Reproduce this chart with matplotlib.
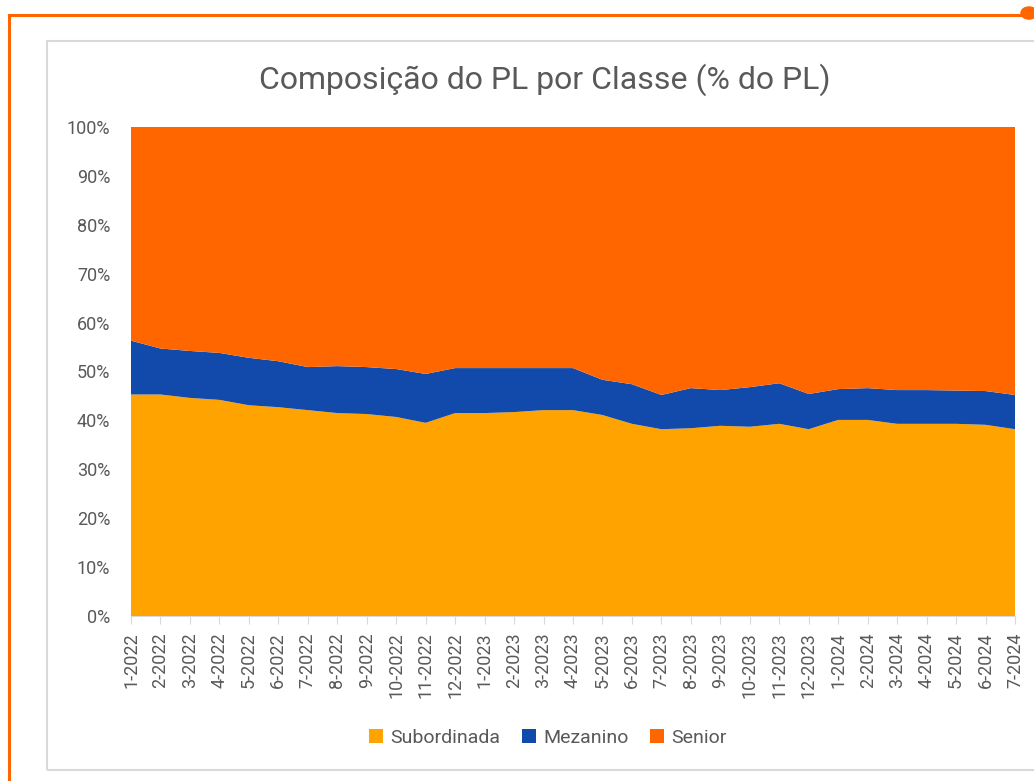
from matplotlib import pyplot as plt
from matplotlib.patches import Rectangle, Circle
from matplotlib.lines import Line2D
import numpy as np

plt.rcParams['font.family'] = ['Roboto', 'DejaVu Sans']

# meses
meses = ['1-2022', '2-2022', '3-2022', '4-2022', '5-2022', '6-2022', '7-2022', '8-2022',
         '9-2022', '10-2022', '11-2022', '12-2022', '1-2023', '2-2023', '3-2023', '4-2023',
         '5-2023', '6-2023', '7-2023', '8-2023', '9-2023', '10-2023', '11-2023', '12-2023',
         '1-2024', '2-2024', '3-2024', '4-2024', '5-2024', '6-2024', '7-2024']

# % do PL
subordinada = [45.3, 45.3, 44.6, 44.2, 43.1, 42.7, 42.1, 41.5, 41.3, 40.7, 39.5, 41.5,
               41.5, 41.7, 42.1, 42.1, 41.1, 39.3, 38.2, 38.4, 38.9, 38.7, 39.3, 38.2,
               40.1, 40.1, 39.3, 39.3, 39.3, 39.1, 38.2]
mezanino = [11.0, 9.4, 9.6, 9.6, 9.7, 9.4, 8.8, 9.6, 9.6, 9.8, 10.0, 9.2,
            9.2, 9.0, 8.6, 8.6, 7.2, 8.1, 7.0, 8.2, 7.3, 8.1, 8.3, 7.2,
            6.3, 6.5, 6.9, 6.9, 6.8, 6.9, 7.0]
senior = [100 - s - m for s, m in zip(subordinada, mezanino)]

cor_sub = '#FFA300'
cor_mez = '#114AAB'
cor_sen = '#FF6600'
cinza = '#595959'

fig = plt.figure(figsize=(10.34, 7.81), dpi=100)

# moldura laranja e caixa cinza
fig.add_artist(Line2D([8.5/1034, 1028/1034], [1-14.5/781, 1-14.5/781], color=cor_sen, lw=2.2))
fig.add_artist(Line2D([8.5/1034, 8.5/1034], [0, 1-14.5/781], color=cor_sen, lw=2.2))
fig.add_artist(Circle((1029/1034, 1-13/781), 8/1034, color=cor_sen, transform=fig.transFigure))
fig.add_artist(Rectangle((47/1034, 1-770/781), 1.0, (770-41)/781, transform=fig.transFigure,
                         fill=False, edgecolor='#D9D9D9', lw=1.5))

ax = fig.add_axes([131/1034, 1-616/781, (1015-131)/1034, (616-127)/781])
x = np.arange(len(meses))
ax.stackplot(x, subordinada, mezanino, senior, colors=[cor_sub, cor_mez, cor_sen],
             labels=['Subordinada', 'Mezanino', 'Senior'], lw=0)

ax.set_xlim(0, len(meses)-1)
ax.set_ylim(0, 100)
ax.set_yticks(range(0, 101, 10))
ax.set_yticklabels([str(v)+'%' for v in range(0, 101, 10)])
ax.set_xticks(x)
ax.set_xticklabels(meses, rotation=90)
ax.tick_params(axis='y', length=0, pad=15, labelsize=13, labelcolor=cinza)
ax.tick_params(axis='x', length=6, color='#D9D9D9', pad=6, labelsize=13, labelcolor=cinza)
for s in ['top', 'right', 'left']:
    ax.spines[s].set_visible(False)
ax.spines['bottom'].set_color('#D9D9D9')

fig.text(545/1034, 1-80/781, 'Composição do PL por Classe (% do PL)', ha='center', va='center',
         fontsize=23, color=cinza)

fig.legend(loc='center', bbox_to_anchor=(548/1034, 1-738/781), ncol=3, frameon=False,
           fontsize=14, handlelength=0.7, handleheight=0.7, handletextpad=0.4,
           columnspacing=1.1, labelcolor=cinza)

plt.savefig('out.png', dpi=100)
